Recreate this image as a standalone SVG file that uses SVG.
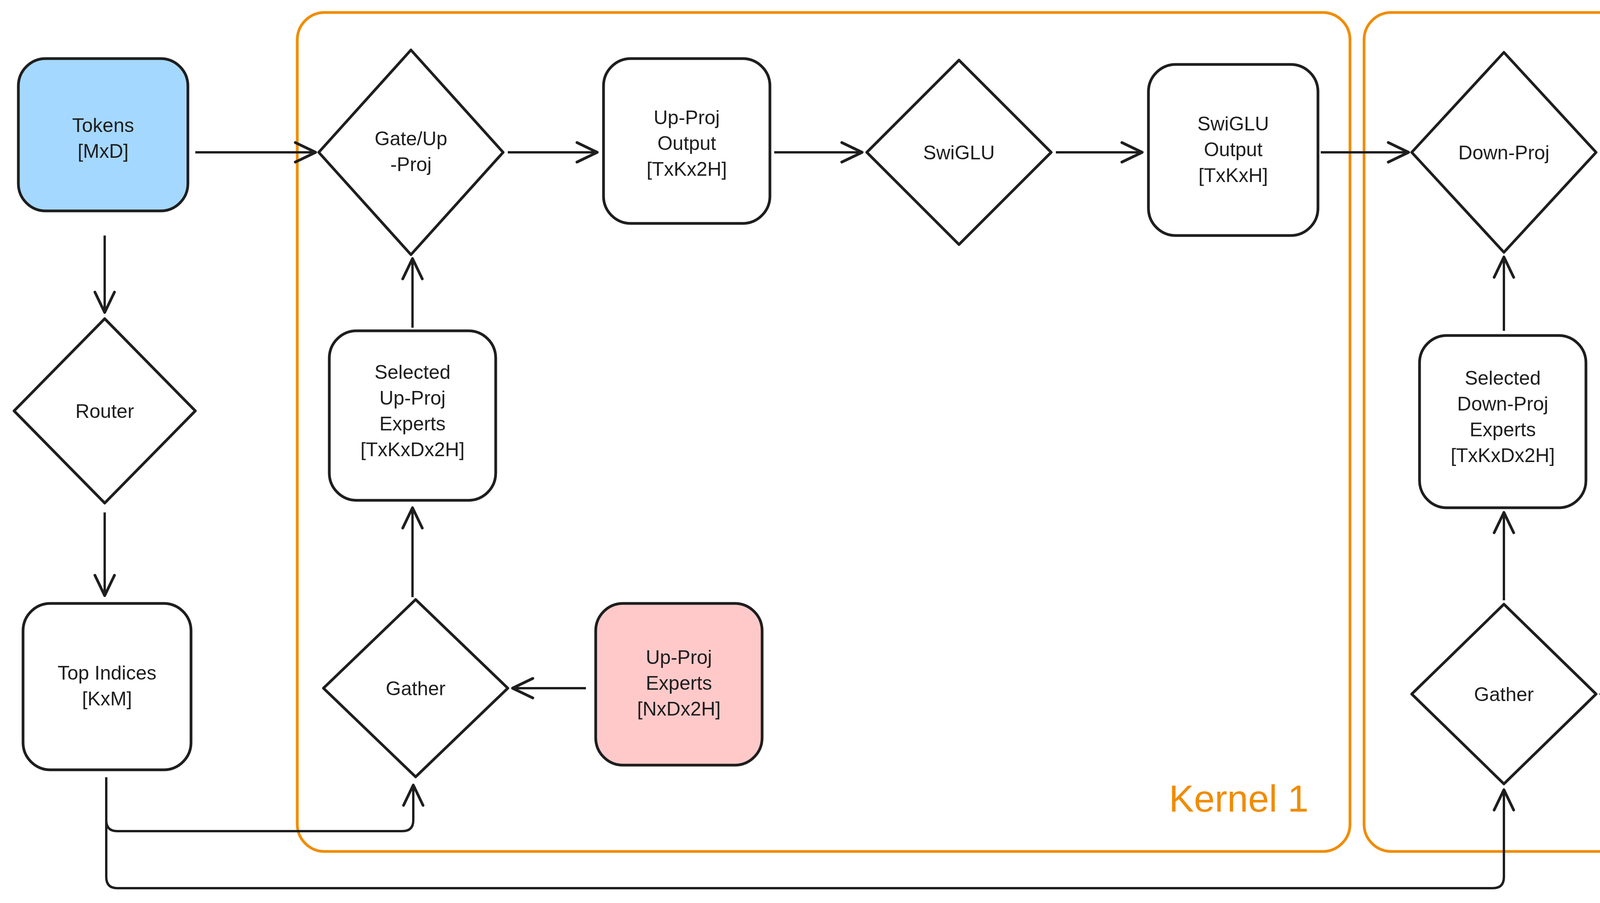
<svg xmlns="http://www.w3.org/2000/svg" width="6180" height="2312" viewBox="0 0 6180 2312">
<style>
.n{fill:#fff;stroke:#1e1e1e;stroke-width:7}
.t{font-family:"Liberation Sans",sans-serif;font-size:50px;fill:#1e1e1e;text-anchor:middle}
.k{fill:none;stroke:#f08c00;stroke-width:7}
.kl{font-family:"Liberation Sans",sans-serif;font-size:96px;fill:#f08c00;text-anchor:end}
.c{fill:none;stroke:#1e1e1e;stroke-width:6;marker-end:url(#a)}
</style>
<defs>
<marker id="a" markerUnits="userSpaceOnUse" markerWidth="80" markerHeight="80" refX="62" refY="40" orient="auto">
<path d="M10 15 L62 40 L10 65" fill="none" stroke="#1e1e1e" stroke-width="7" stroke-linecap="round" stroke-linejoin="round"/>
</marker>
</defs>
<rect width="6180" height="2312" fill="#fff"/>
<g id="kernel1"><rect class="k" x="761" y="32" width="2695" height="2148" rx="70"/><text class="kl" x="3350" y="2078">Kernel 1</text></g>
<g id="kernel2"><rect class="k" x="3492" y="32" width="2065" height="2148" rx="70"/><text class="kl" x="5455" y="2078">Kernel 2</text></g>
<g id="connectors">
<path class="c" d="M500 390H808"/>
<path class="c" d="M1300 390H1529"/>
<path class="c" d="M1982 390H2207"/>
<path class="c" d="M2703 390H2924"/>
<path class="c" d="M3381 390H3606"/>
<path class="c" d="M4098 390H4315"/>
<path class="c" d="M4761 390H4994"/>
<path class="c" d="M5478 390H5702"/>
<path class="c" d="M268 603V800"/>
<path class="c" d="M268 1312V1525"/>
<path class="c" d="M1056 839V662"/>
<path class="c" d="M1056 1529V1300"/>
<path class="c" d="M1500 1762H1312"/>
<path class="c" d="M272 1990V2100Q272 2128 300 2128H1030Q1058 2128 1058 2100V2010"/>
<path class="c" d="M272 1990V2245Q272 2274 300 2274H3822Q3850 2274 3850 2245V2022"/>
<path class="c" d="M3850 847V658"/>
<path class="c" d="M3850 1537V1312"/>
<path class="c" d="M4303 1777H4098"/>
</g>
<g id="tokens"><rect class="n" x="47" y="150" width="434" height="390" rx="70" style="fill:#a5d8ff"/><text class="t" x="264" y="338">Tokens</text><text class="t" x="264" y="404">[MxD]</text></g>
<g id="router"><path class="n" d="M268 816L500 1052L268 1288L36 1052Z" stroke-linejoin="round"/><text class="t" x="268" y="1070">Router</text></g>
<g id="topindices"><rect class="n" x="59" y="1545" width="430" height="426" rx="70"/><text class="t" x="274" y="1740">Top Indices</text><text class="t" x="274" y="1806">[KxM]</text></g>
<g id="gateup"><path class="n" d="M1052 128L1288 390L1052 652L816 390Z" stroke-linejoin="round"/><text class="t" x="1052" y="372">Gate/Up</text><text class="t" x="1052" y="438">-Proj</text></g>
<g id="upout"><rect class="n" x="1545" y="150" width="426" height="422" rx="70"/><text class="t" x="1758" y="318">Up-Proj</text><text class="t" x="1758" y="384">Output</text><text class="t" x="1758" y="450">[TxKx2H]</text></g>
<g id="swiglu"><path class="n" d="M2455 154L2691 390L2455 626L2219 390Z" stroke-linejoin="round"/><text class="t" x="2455" y="408">SwiGLU</text></g>
<g id="swiout"><rect class="n" x="2940" y="165" width="434" height="438" rx="70"/><text class="t" x="3157" y="334">SwiGLU</text><text class="t" x="3157" y="400">Output</text><text class="t" x="3157" y="466">[TxKxH]</text></g>
<g id="downproj"><path class="n" d="M3850 134L4086 390L3850 646L3614 390Z" stroke-linejoin="round"/><text class="t" x="3850" y="408">Down-Proj</text></g>
<g id="downout"><rect class="n" x="4327" y="150" width="422" height="430" rx="70"/><text class="t" x="4538" y="322">Down-Proj</text><text class="t" x="4538" y="388">Output</text><text class="t" x="4538" y="454">[TxKxD]</text></g>
<g id="reduce"><path class="n" d="M5245 154L5481 390L5245 626L5009 390Z" stroke-linejoin="round"/><text class="t" x="5245" y="408">Reduce</text></g>
<g id="output"><rect class="n" x="5714" y="150" width="426" height="453" rx="70" style="fill:#b2f2bb"/><text class="t" x="5927" y="364">Output</text><text class="t" x="5927" y="430">[TxD]</text></g>
<g id="selup"><rect class="n" x="843" y="847" width="426" height="434" rx="70"/><text class="t" x="1056" y="970">Selected</text><text class="t" x="1056" y="1036">Up-Proj</text><text class="t" x="1056" y="1102">Experts</text><text class="t" x="1056" y="1168">[TxKxDx2H]</text></g>
<g id="gather1"><path class="n" d="M1064 1535L1300 1762L1064 1989L828 1762Z" stroke-linejoin="round"/><text class="t" x="1064" y="1780">Gather</text></g>
<g id="upexperts"><rect class="n" x="1525" y="1545" width="426" height="414" rx="70" style="fill:#ffc9c9"/><text class="t" x="1738" y="1700">Up-Proj</text><text class="t" x="1738" y="1766">Experts</text><text class="t" x="1738" y="1832">[NxDx2H]</text></g>
<g id="seldown"><rect class="n" x="3634" y="859" width="426" height="441" rx="70"/><text class="t" x="3847" y="985">Selected</text><text class="t" x="3847" y="1051">Down-Proj</text><text class="t" x="3847" y="1117">Experts</text><text class="t" x="3847" y="1183">[TxKxDx2H]</text></g>
<g id="gather2"><path class="n" d="M3850 1547L4086 1777L3850 2007L3614 1777Z" stroke-linejoin="round"/><text class="t" x="3850" y="1795">Gather</text></g>
<g id="downexperts"><rect class="n" x="4319" y="1568" width="426" height="414" rx="70" style="fill:#ffc9c9"/><text class="t" x="4532" y="1722">Down-Proj</text><text class="t" x="4532" y="1788">Experts</text><text class="t" x="4532" y="1854">[NxHxD]</text></g>
</svg>
